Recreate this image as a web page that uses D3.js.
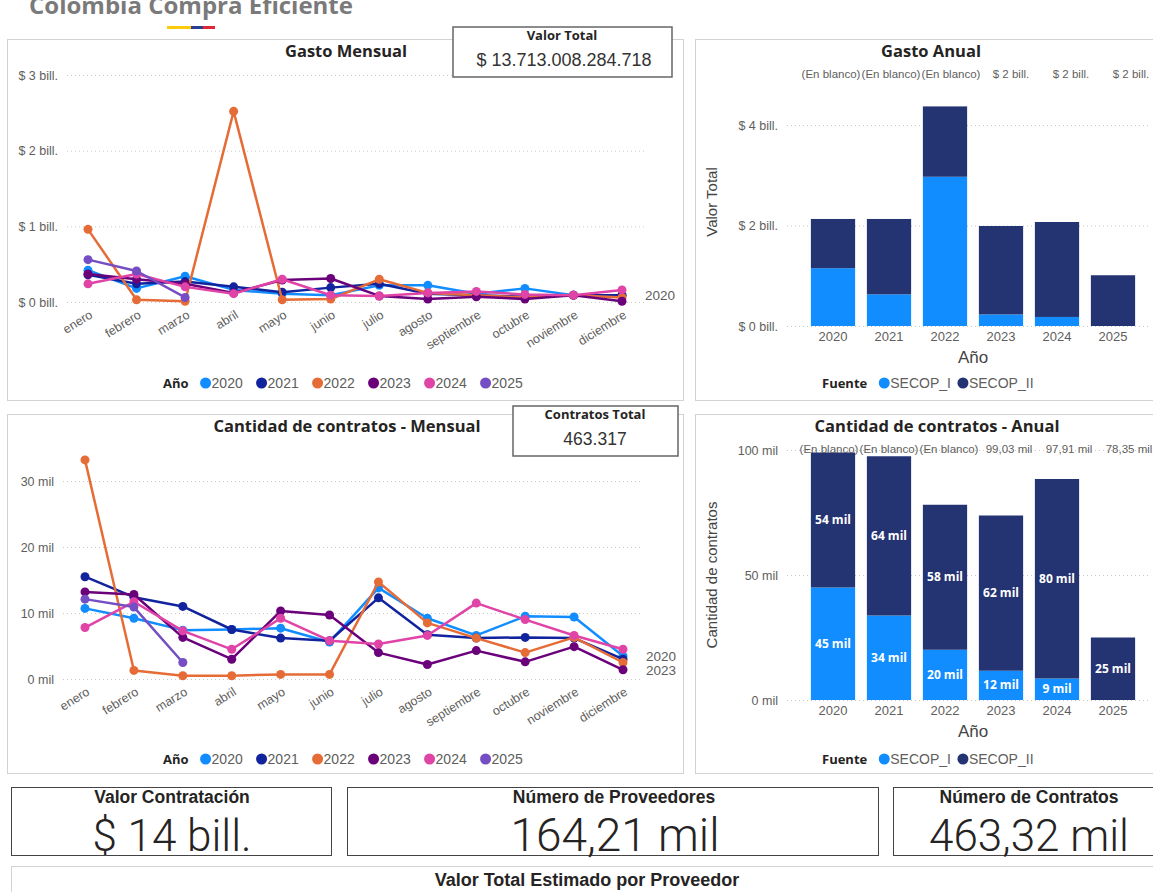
<!DOCTYPE html>
<html>
<head>
<meta charset="utf-8">
<script src="https://cdn.jsdelivr.net/npm/d3@7/dist/d3.min.js"></script>
<style>
  body { margin: 0; background: #fff; overflow: hidden; }
  svg { display: block; }
</style>
</head>
<body>
<svg width="1153" height="892"></svg>
<script>
const months = ['enero', 'febrero', 'marzo', 'abril', 'mayo', 'junio', 'julio',
  'agosto', 'septiembre', 'octubre', 'noviembre', 'diciembre'];
const years = ['2020', '2021', '2022', '2023', '2024', '2025'];
const yearColors = ['#118DFF', '#12239E', '#E66C37', '#6B007B', '#E044A7', '#744EC2'];

// gasto mensual, billones de pesos
const gasto2020 = [0.42, 0.18, 0.34, 0.16, 0.11, 0.09, 0.22, 0.22, 0.11, 0.18, 0.09, 0.09];
const gasto2021 = [0.36, 0.24, 0.27, 0.20, 0.13, 0.19, 0.24, 0.11, 0.09, 0.07, 0.09, 0.09];
const gasto2022 = [0.96, 0.03, 0.01, 2.52, 0.03, 0.04, 0.30, 0.12, 0.09, 0.06, 0.09, 0.06];
const gasto2023 = [0.37, 0.30, 0.24, 0.12, 0.29, 0.31, 0.08, 0.04, 0.07, 0.04, 0.09, 0.01];
const gasto2024 = [0.24, 0.37, 0.20, 0.11, 0.30, 0.09, 0.08, 0.12, 0.14, 0.10, 0.09, 0.16];
const gasto2025 = [0.56, 0.41, 0.06];

// contratos mensuales, miles
const contratos2020 = [10.7, 9.2, 7.4, 7.5, 7.7, 5.6, 13.8, 9.2, 6.6, 9.5, 9.4, 3.5];
const contratos2021 = [15.5, 12.4, 11.0, 7.5, 6.2, 5.8, 12.3, 6.7, 6.2, 6.3, 6.2, 3.0];
const contratos2022 = [33.2, 1.3, 0.5, 0.5, 0.7, 0.7, 14.7, 8.5, 6.2, 4.0, 6.3, 2.5];
const contratos2023 = [13.2, 12.8, 6.3, 3.0, 10.3, 9.7, 4.0, 2.2, 4.3, 2.6, 4.9, 1.4];
const contratos2024 = [7.8, 11.7, 7.3, 4.5, 9.2, 5.8, 5.3, 6.6, 11.5, 9.0, 6.6, 4.5];
const contratos2025 = [12.1, 10.9, 2.5];

// anual por fuente
const fuentes = ['SECOP_I', 'SECOP_II'];
const fuenteColors = ['#118DFF', '#243473'];
const gastoSecopI = [1.15, 0.63, 2.97, 0.23, 0.18, 0];
const gastoSecopII = [0.98, 1.50, 1.40, 1.76, 1.89, 1.01];
const contratosSecopI = [45.0, 33.8, 20.1, 11.7, 8.6, 0];
const contratosSecopII = [54.0, 63.7, 58.0, 62.1, 79.8, 25.0];
const gastoTopLabels = ['(En blanco)', '(En blanco)', '(En blanco)', '$ 2 bill.', '$ 2 bill.', '$ 2 bill.'];
const contratosTopLabels = ['(En blanco)', '(En blanco)', '(En blanco)', '99,03 mil', '97,91 mil', '78,35 mil'];

const FONT = "'Segoe UI', 'Open Sans', sans-serif";
const AXFONT = "'Liberation Sans', Arial, sans-serif";
const NARROW = "'Liberation Sans Narrow', 'Liberation Sans', sans-serif";
const KPI = "Roboto, 'Liberation Sans Narrow', sans-serif";
const GREY = '#605E5C';

const svg = d3.select('svg');

function box(x, y, w, h, stroke, sw) {
  svg.append('rect')
    .attr('x', x).attr('y', y).attr('width', w).attr('height', h)
    .attr('fill', '#fff').attr('stroke', stroke).attr('stroke-width', sw || 1);
}

function text(x, y, s, opts) {
  const t = svg.append('text')
    .attr('x', x).attr('y', y)
    .attr('text-anchor', opts.anchor || 'middle')
    .attr('fill', opts.fill || '#252423')
    .style('font-family', opts.family || FONT)
    .style('font-size', opts.size + 'px')
    .style('font-weight', opts.weight || 400)
    .text(s);
  return t;
}

function gridAxis(y, ticks, fmt, x0, x1) {
  const axis = d3.axisLeft(y)
    .tickValues(ticks)
    .tickFormat(fmt)
    .tickSize(-(x1 - x0))
    .tickPadding(9);
  const g = svg.append('g').attr('transform', `translate(${x0},0)`).call(axis);
  g.select('.domain').remove();
  g.selectAll('.tick line')
    .attr('stroke', '#c8c8c8')
    .attr('stroke-dasharray', '1,3');
  g.selectAll('.tick text')
    .attr('fill', GREY)
    .style('font-family', AXFONT)
    .style('font-size', '12.5px');
  return g;
}

function legend(x, y, label, items, colors, gap) {
  const lt = text(x, y, label, { anchor: 'start', size: 13, weight: 700 });
  let cx = x + lt.node().getComputedTextLength() + 17;
  items.forEach((it, i) => {
    svg.append('circle').attr('cx', cx).attr('cy', y - 5).attr('r', 5.5).attr('fill', colors[i]);
    const t = text(cx + 6, y, it, { anchor: 'start', size: 14, fill: GREY, family: AXFONT });
    cx += gap || (t.node().getComputedTextLength() + 18);
  });
}

function lineChart(opt) {
  const x = d3.scalePoint().domain(months).range(opt.xRange);
  const y = d3.scaleLinear().domain(opt.yDomain).range(opt.yRange);
  gridAxis(y, opt.ticks, opt.fmt, opt.gridX[0], opt.gridX[1]);

  // month labels, rotated
  const xg = svg.append('g').attr('transform', `translate(0,${opt.yRange[0]})`)
    .call(d3.axisBottom(x).tickSize(0));
  xg.select('.domain').remove();
  xg.selectAll('.tick text')
    .attr('y', 0)
    .attr('dy', '0.75em')
    .attr('text-anchor', 'end')
    .attr('transform', 'translate(0,7) rotate(-32)')
    .attr('fill', GREY)
    .style('font-family', AXFONT)
    .style('font-size', '12.5px');

  const line = d3.line().x((d, i) => x(months[i])).y(d => y(d));
  opt.series.forEach((s, k) => {
    svg.append('path').datum(s)
      .attr('d', line)
      .attr('fill', 'none')
      .attr('stroke', yearColors[k])
      .attr('stroke-width', 2.5)
      .attr('stroke-linejoin', 'round');
    svg.selectAll(null).data(s).enter().append('circle')
      .attr('cx', (d, i) => x(months[i]))
      .attr('cy', d => y(d))
      .attr('r', 4.5)
      .attr('fill', yearColors[k]);
  });

  opt.endLabels.forEach(k => {
    const s = opt.series[k];
    text(x(months[11]) + 23, y(s[11]) + 5, years[k], { anchor: 'start', size: 13.5, fill: GREY, family: AXFONT });
  });

  legend(163, opt.legendY, 'Año', years, yearColors, 56);
}

function barChart(opt) {
  const x = d3.scaleBand().domain(years).range(opt.xRange).paddingInner(0.21).paddingOuter(0.105);
  const y = d3.scaleLinear().domain(opt.yDomain).range(opt.yRange);
  gridAxis(y, opt.ticks, opt.fmt, opt.gridX[0], opt.gridX[1]);

  const rows = years.map((yr, i) => ({ year: yr, SECOP_I: opt.s1[i], SECOP_II: opt.s2[i] }));
  const stacked = d3.stack().keys(fuentes)(rows);
  stacked.forEach((layer, k) => {
    svg.selectAll(null).data(layer).enter().append('rect')
      .attr('x', d => x(d.data.year))
      .attr('y', d => y(d[1]))
      .attr('width', x.bandwidth())
      .attr('height', d => y(d[0]) - y(d[1]))
      .attr('fill', fuenteColors[k]);
    if (opt.segLabels) {
      svg.selectAll(null).data(layer.filter(d => d[1] - d[0] > 0)).enter().append('text')
        .attr('x', d => x(d.data.year) + x.bandwidth() / 2)
        .attr('y', d => (y(d[0]) + y(d[1])) / 2 + 4)
        .attr('text-anchor', 'middle')
        .attr('fill', '#fff')
        .style('font-family', FONT)
        .style('font-size', '12px')
        .style('font-weight', 700)
        .text(d => Math.round(d[1] - d[0]) + ' mil');
    }
  });

  const xg = svg.append('g').attr('transform', `translate(0,${opt.yRange[0]})`)
    .call(d3.axisBottom(x).tickSize(0).tickPadding(6));
  xg.select('.domain').remove();
  xg.selectAll('.tick text')
    .attr('fill', GREY)
    .style('font-family', AXFONT)
    .style('font-size', '13px');

  // totals row printed above the plot
  const lx = d3.scalePoint().domain(years).range(opt.labelRange);
  svg.selectAll(null).data(opt.topLabels).enter().append('text')
    .attr('x', (d, i) => lx(years[i]))
    .attr('y', opt.labelY)
    .attr('text-anchor', 'middle')
    .attr('fill', GREY)
    .style('font-family', AXFONT)
    .style('font-size', '11.5px')
    .text(d => d);

  text(973, opt.yRange[0] + 37, 'Año', { size: 17, fill: '#444', family: AXFONT });
  text(0, 0, opt.yTitle, { size: 15, fill: '#444', family: AXFONT })
    .attr('transform', `translate(717,${opt.yTitleY}) rotate(-90)`);

  legend(822, opt.legendY, 'Fuente', fuentes, fuenteColors, 0);
}

// encabezado
text(191, 14, 'Colombia Compra Eficiente', { size: 24, weight: 700, fill: '#7a7a7a' });
svg.append('rect').attr('x', 167).attr('y', 26).attr('width', 24).attr('height', 3).attr('fill', '#FCCB0A');
svg.append('rect').attr('x', 191).attr('y', 26).attr('width', 12).attr('height', 3).attr('fill', '#2A3F8F');
svg.append('rect').attr('x', 203).attr('y', 26).attr('width', 12).attr('height', 3).attr('fill', '#E32636');

// paneles
box(7.5, 39.5, 676, 361, '#d2d2d2');
box(695.5, 39.5, 470, 361, '#d2d2d2');
box(7.5, 414.5, 676, 359, '#d2d2d2');
box(695.5, 414.5, 470, 359, '#d2d2d2');

text(346, 57, 'Gasto Mensual', { size: 16.5, weight: 700 });
text(931, 57, 'Gasto Anual', { size: 16.5, weight: 700 });
text(347, 432, 'Cantidad de contratos - Mensual', { size: 16.5, weight: 700 });
text(937, 432, 'Cantidad de contratos - Anual', { size: 16.5, weight: 700 });

lineChart({
  series: [gasto2020, gasto2021, gasto2022, gasto2023, gasto2024, gasto2025],
  xRange: [88, 622], yDomain: [0, 3], yRange: [302, 75],
  ticks: [0, 1, 2, 3], fmt: d => `$ ${d} bill.`,
  gridX: [67, 645], endLabels: [0], legendY: 388
});

lineChart({
  series: [contratos2020, contratos2021, contratos2022, contratos2023, contratos2024, contratos2025],
  xRange: [85, 623], yDomain: [0, 30], yRange: [679, 481],
  ticks: [0, 10, 20, 30], fmt: d => `${d} mil`,
  gridX: [63, 640], endLabels: [0, 3], legendY: 764
});

barChart({
  s1: gastoSecopI, s2: gastoSecopII,
  xRange: [805, 1141], yDomain: [0, 4], yRange: [326, 125],
  ticks: [0, 2, 4], fmt: d => `$ ${d} bill.`, gridX: [787, 1150],
  topLabels: gastoTopLabels, labelRange: [831, 1131], labelY: 78,
  yTitle: 'Valor Total', yTitleY: 202, legendY: 388, segLabels: false
});

barChart({
  s1: contratosSecopI, s2: contratosSecopII,
  xRange: [805, 1141], yDomain: [0, 100], yRange: [700, 450],
  ticks: [0, 50, 100], fmt: d => `${d} mil`, gridX: [787, 1150],
  topLabels: contratosTopLabels, labelRange: [829, 1129], labelY: 453,
  yTitle: 'Cantidad de contratos', yTitleY: 575, legendY: 764, segLabels: true
});

// tarjetas
box(453, 27, 219, 50, '#666', 1.5);
text(562, 40, 'Valor Total', { size: 13, weight: 700 });
text(564, 66, '$ 13.713.008.284.718', { size: 18, family: AXFONT, fill: '#333' });

box(513, 406, 165, 50, '#666', 1.5);
text(595, 419, 'Contratos Total', { size: 13, weight: 700 });
text(595, 445, '463.317', { size: 17.5, family: AXFONT, fill: '#333' });

box(11.5, 787.5, 320, 68, '#444');
box(347.5, 787.5, 531, 68, '#444');
box(893.5, 787.5, 270, 68, '#444');
text(172, 803, 'Valor Contratación', { size: 17.5, weight: 700, family: NARROW });
text(614, 803, 'Número de Proveedores', { size: 17.5, weight: 700, family: NARROW });
text(1029, 803, 'Número de Contratos', { size: 17.5, weight: 700, family: NARROW });
text(172, 851, '$ 14 bill.', { size: 44, family: KPI, weight: 300 });
text(615, 851, '164,21 mil', { size: 46, family: KPI, weight: 300 });
text(1029, 851, '463,32 mil', { size: 44, family: KPI, weight: 300 });

box(11.5, 866.5, 1160, 40, '#d2d2d2');
text(587, 886, 'Valor Total Estimado por Proveedor', { size: 18, weight: 700, family: NARROW });
</script>
</body>
</html>
